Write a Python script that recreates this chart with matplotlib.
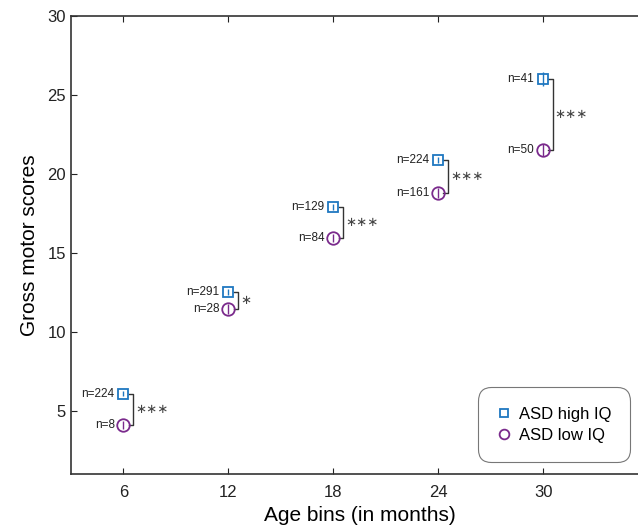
import matplotlib
matplotlib.use("Agg")
import matplotlib.pyplot as plt
from matplotlib.lines import Line2D

ages = [6, 12, 18, 24, 30]
high_iq = [6.08, 12.53, 17.9, 20.88, 26.0]
high_err = [0.15, 0.18, 0.2, 0.18, 0.45]
low_iq = [4.1, 11.45, 15.95, 18.8, 21.52]
low_err = [0.25, 0.3, 0.25, 0.3, 0.4]
n_high = ["n=224", "n=291", "n=129", "n=224", "n=41"]
n_low = ["n=8", "n=28", "n=84", "n=161", "n=50"]
signif = ["***", "*", "***", "***", "***"]

blue = "#1f77c0"
purple = "#7a2a8c"
gray = "#333333"

plt.rcParams['font.family'] = ['Liberation Sans', 'DejaVu Sans']

fig = plt.figure(figsize=(6.38, 5.32), dpi=100)
ax = fig.add_axes([71/638, 1-474/532, (648-71)/638, (474-16)/532])

ax.errorbar(ages, high_iq, yerr=high_err, fmt='s', color=blue, mfc='none',
            mec=blue, ms=7, mew=1.3, elinewidth=1.0, capsize=0, zorder=3)
ax.errorbar(ages, low_iq, yerr=low_err, fmt='o', color=purple, mfc='none',
            mec=purple, ms=9, mew=1.3, elinewidth=1.0, capsize=0, zorder=3)

for a, h, l, nh, nl, s in zip(ages, high_iq, low_iq, n_high, n_low, signif):
    bx = a + 0.55
    ax.plot([bx - 0.25, bx, bx, bx - 0.25], [h, h, l, l], color=gray, lw=1.0)
    ax.text(bx + 0.12, (h + l) / 2, s.replace('*', '\u2217'), family='DejaVu Sans',
            fontsize=9.5, color='#444444', ha='left', va='center')
    ax.text(a - 0.5, h, nh, fontsize=8.5, color='#222222', ha='right', va='center')
    ax.text(a - 0.5, l, nl, fontsize=8.5, color='#222222', ha='right', va='center')

ax.set_xlim(3, 36)
ax.set_ylim(1, 30)
ax.set_xticks(ages)
ax.set_yticks([5, 10, 15, 20, 25, 30])
ax.tick_params(direction='in', length=4, width=0.8, labelsize=12, top=True, colors='#222222')
ax.tick_params(axis='x', pad=8)
for sp in ['left', 'bottom', 'top']:
    ax.spines[sp].set_linewidth(1.2)
    ax.spines[sp].set_color('#333333')
ax.spines['right'].set_visible(False)

ax.set_xlabel('Age bins (in months)', fontsize=15, labelpad=4)
ax.set_ylabel('Gross motor scores', fontsize=15, labelpad=6)

handles = [
    Line2D([], [], ls='none', marker='s', ms=6, mfc='none', mec=blue, mew=1.3),
    Line2D([], [], ls='none', marker='o', ms=7, mfc='none', mec=purple, mew=1.3),
]
leg = ax.legend(handles, ['ASD high IQ', 'ASD low IQ'], loc='lower right',
                bbox_to_anchor=(0.958, 0.04), fontsize=12,
                frameon=True, fancybox=True, handletextpad=0.5, handlelength=0.8,
                borderpad=0.75, labelspacing=0.4, borderaxespad=0)
leg.get_frame().set_edgecolor('#555555')
leg.get_frame().set_linewidth(0.8)
leg.get_frame().set_boxstyle('round', pad=0.4, rounding_size=0.8)

fig.savefig('out.png', dpi=100)
